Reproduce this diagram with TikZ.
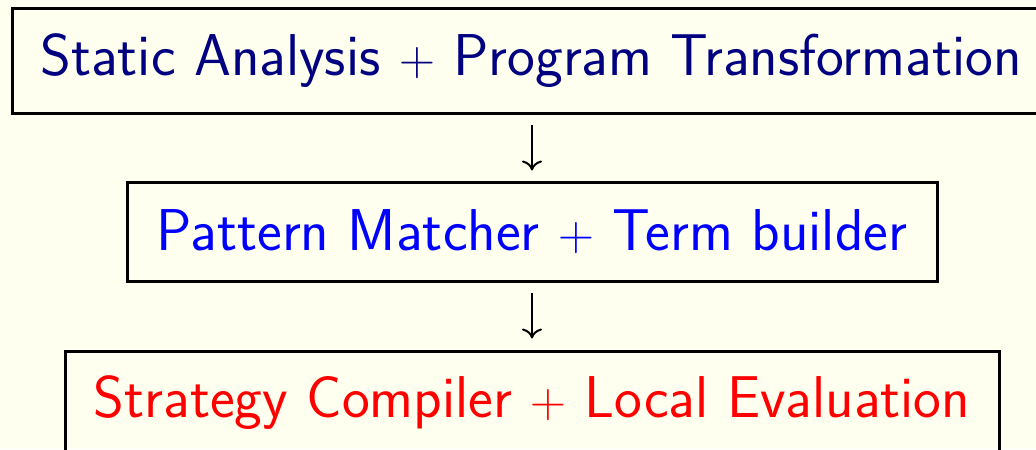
\documentclass[tikz,border=0pt]{standalone}
\usetikzlibrary{arrows.meta}
\definecolor{bg}{RGB}{255,255,240}
\definecolor{navytext}{RGB}{0,0,128}
\tikzset{
  box/.style={draw=black, line width=1.5pt, inner sep=0pt, anchor=center,
    font=\fontsize{29.5}{35}\selectfont\sffamily},
  flow/.style={line width=1pt, -{To[length=5pt,width=10pt]}, shorten <=5pt, shorten >=5pt}
}
\begin{document}
\begin{tikzpicture}[x=0.5pt,y=-0.5pt]
\useasboundingbox (0,0) rectangle (1036,449);
\clip (0,0) rectangle (1036,449);
\fill[bg] (0,0) rectangle (1036,449);
\node[box, minimum width=1038*0.5pt, minimum height=104*0.5pt, text=navytext] (a) at (531,61) {Static Analysis $+$ Program Transformation};
\node[box, minimum width=810*0.5pt, minimum height=99*0.5pt, text=blue] (b) at (532,231.5) {Pattern Matcher $+$ Term builder};
\node[box, minimum width=934*0.5pt, minimum height=104*0.5pt, text=red] (c) at (532,403) {Strategy Compiler $+$ Local Evaluation};
\draw[flow] (a.south -| 532,0) -- (b.north -| 532,0);
\draw[flow, shorten >=5.5pt] (b.south -| 532,0) -- (c.north -| 532,0);
\end{tikzpicture}
\end{document}
